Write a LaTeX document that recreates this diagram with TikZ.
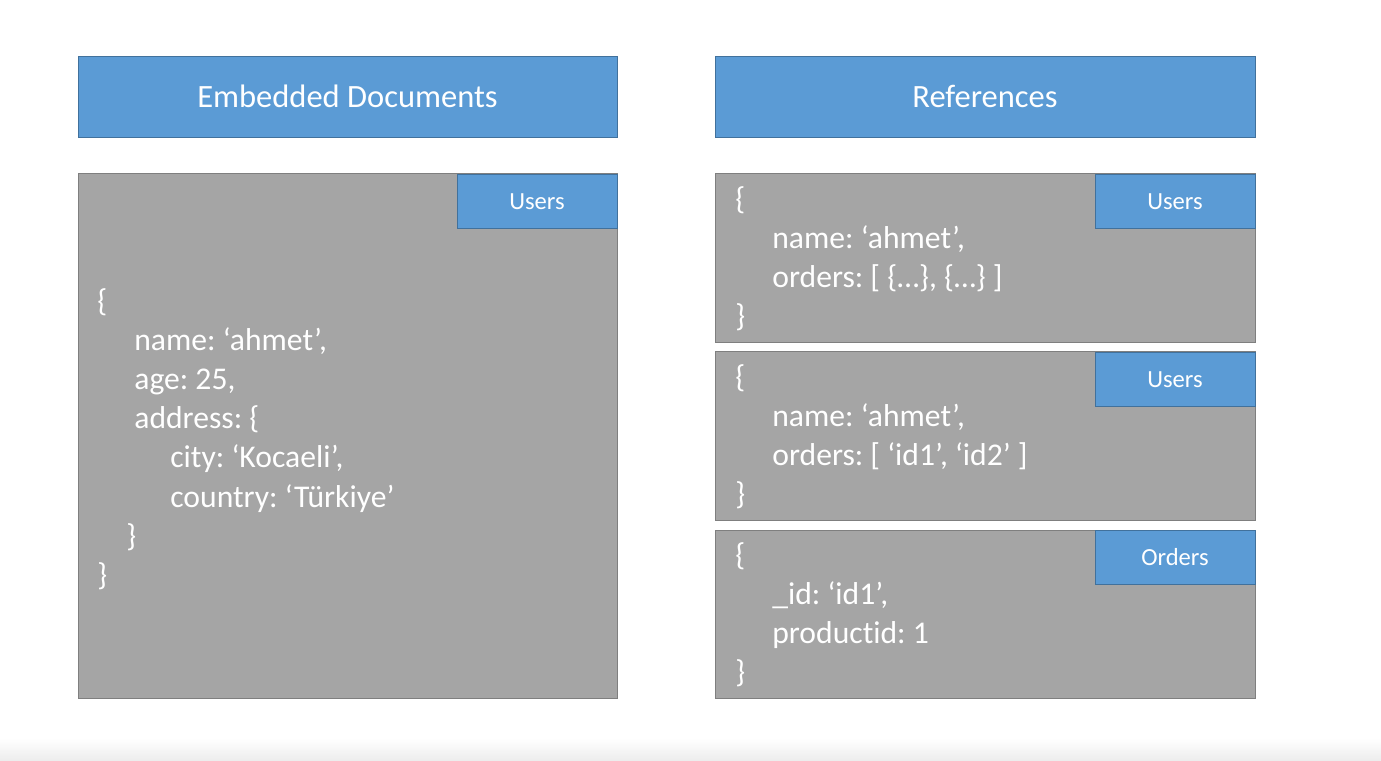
\documentclass[tikz,border=0pt]{standalone}
\usepackage{fontspec}
\setmainfont{Carlito}[Ligatures={NoCommon}]
\usepackage{tikz}
\usetikzlibrary{positioning}
\definecolor{headblue}{HTML}{5B9BD5}
\definecolor{headline}{HTML}{41719C}
\definecolor{docgray}{HTML}{A5A5A5}
\definecolor{docline}{HTML}{7F7F7F}
\frenchspacing

\begin{document}
\begin{tikzpicture}[
	header/.style={draw=headline,fill=headblue,text=white,minimum width=10.78cm,minimum height=1.62cm,font=\fontsize{18.5}{22}\selectfont},
	docbox/.style={draw=docline,fill=docgray,minimum width=10.8cm},
	tagbox/.style={draw=headline,fill=headblue,text=white,minimum width=3.2cm,minimum height=1.08cm,anchor=north east,font=\fontsize{14}{17}\selectfont},
	code/.style={text=white,align=left,anchor=north west,inner sep=0pt,font=\fontsize{18}{22.3}\selectfont}
	]

	%% Page %%
	\useasboundingbox (0,0) rectangle (27.62,-15.2);
	\shade [top color=white,bottom color=black!7] (0,-14.76) rectangle (27.62,-15.2);
	%% Headers %%
	\node [header] (embedhead) at (6.95,-1.93) {Embedded Documents};
	\node [header,minimum width=10.8cm] (refhead) at (19.7,-1.93) {References};
	%% Embedded Document %%
	\node [docbox,minimum width=10.78cm,minimum height=10.5cm] (embedbox) at (6.95,-8.71) {};
	\node [tagbox,yshift=-0.03cm] (embedtag) at (embedbox.north east) {Users};
	\node [code] (embedcode) at (1.94,-5.76) {\{\\
		\hspace*{0.74cm}name: ‘ahmet’,\\
		\hspace*{0.74cm}age: 25,\\
		\hspace*{0.74cm}address: \{\\
		\hspace*{1.46cm}city: ‘Kocaeli’,\\
		\hspace*{1.46cm}country: ‘Türkiye’\\
		\hspace*{0.58cm}\}\\
		\}};
	%% Reference Documents %%
	\node [docbox,minimum height=3.38cm] (userbox) at (19.7,-5.15) {};
	\node [tagbox,yshift=-0.03cm] (usertag) at (userbox.north east) {Users};
	\node [code] (usercode) at (14.7,-3.72) {\{\\
		\hspace*{0.74cm}name: ‘ahmet’,\\
		\hspace*{0.74cm}orders: [ \{…\}, \{…\} ]\\
		\}};
	\node [docbox,minimum height=3.38cm] (idbox) at (19.7,-8.71) {};
	\node [tagbox,yshift=-0.03cm] (idtag) at (idbox.north east) {Users};
	\node [code] (idcode) at (14.7,-7.28) {\{\\
		\hspace*{0.74cm}name: ‘ahmet’,\\
		\hspace*{0.74cm}orders: [ ‘id1’, ‘id2’ ]\\
		\}};
	\node [docbox,minimum height=3.36cm] (orderbox) at (19.7,-12.28) {};
	\node [tagbox] (ordertag) at (orderbox.north east) {Orders};
	\node [code] (ordercode) at (14.7,-10.84) {\{\\
		\hspace*{0.74cm}\_id: ‘id1’,\\
		\hspace*{0.74cm}productid: 1\\
		\}};

\end{tikzpicture}
\end{document}
